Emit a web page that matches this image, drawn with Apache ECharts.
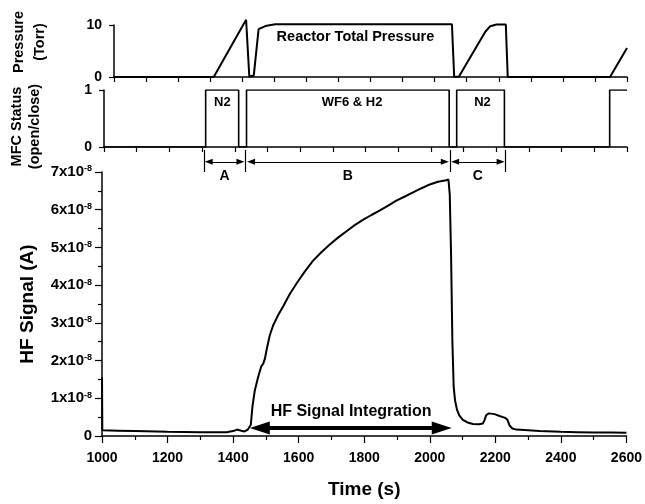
<!DOCTYPE html>
<html><head><meta charset="utf-8">
<script src="https://cdn.jsdelivr.net/npm/echarts@6/dist/echarts.min.js"></script>
<style>html,body{margin:0;padding:0;background:#fff}#c{width:645px;height:504px}</style>
</head><body><div id="c"></div>
<script>
// ---- data ----
const timeMin = 1000, timeMax = 2600;
// HF signal, in units of 1e-8 A
const hfTime = [1000,1001,1050,1100,1200,1300,1380,1400,1412,1425,1435,1445,1451,1454,1459,1466,1476,1486,1492,1495,1497,1503,1512,1522,1537,1553,1572,1594,1618,1644,1670,1695,1720,1746,1771,1796,1822,1848,1873,1898,1924,1949,1975,2000,2025,2050,2057,2061,2065,2069,2073,2077,2083,2090,2101,2115,2132,2150,2162,2167,2172,2180,2198,2213,2230,2237,2244,2252,2264,2300,2335,2400,2450,2500,2550,2600];
const hfSignal = [1.55,0.15,0.14,0.13,0.11,0.10,0.10,0.13,0.17,0.14,0.12,0.17,0.16,0.30,0.78,1.20,1.55,1.85,1.92,1.96,2.05,2.32,2.67,2.93,3.20,3.44,3.75,4.05,4.35,4.65,4.88,5.08,5.26,5.43,5.59,5.73,5.86,5.98,6.11,6.24,6.35,6.46,6.57,6.67,6.74,6.78,6.80,6.40,4.80,2.50,1.30,0.95,0.70,0.55,0.43,0.36,0.32,0.31,0.33,0.42,0.55,0.60,0.58,0.53,0.48,0.43,0.27,0.20,0.17,0.15,0.13,0.11,0.10,0.09,0.09,0.085];
// Reactor total pressure (Torr)
const pressTime = [1000,1311,1412,1422,1428,1436,1451,1472,1503,2054,2061,2067,2076,2158,2173,2193,2222,2228,2547,2600];
const pressTorr = [0,0,11.0,0.1,0,0.3,9.2,9.8,10.15,10.15,0,0,0.1,8.7,9.75,10.1,10.1,0,0,5.6];
// MFC status (step changes)
const mfcTime = [1000,1311,1412,1436,2056,2079,2225,2547,2600];
const mfcState = [0,1,0,1,0,1,0,1,1];
const mfcLabelText = ['N2','WF6 & H2','N2'];
const mfcLabelTime = [1362,1759,2158];
// Phases A/B/C
const phaseNames = ['A','B','C'];
const phaseSpans = [[1313,1434],[1442,2057],[2064,2227]];
const phaseGuides = [1311,1438,2060,2229];
const integrationSpan = [1451,2067];
const integrationText = 'HF Signal Integration';
const pressureText = 'Reactor Total Pressure';
const hfTicks = [0,1,2,3,4,5,6,7];

// ---- chart ----
const F = "'Liberation Sans', Arial, Helvetica, sans-serif";
const black = '#000';
const zip = (a,b) => a.map((v,i)=>[v,b[i]]);
const pxPerSec = 525/1600;
const bigHead = 10/pxPerSec, smallHead = 4/pxPerSec;

const axisLine = {show:true, lineStyle:{color:black, width:1.5}};
const tickStyle = {color:black, width:1.2};
const lab = (size) => ({color:black, fontFamily:F, fontWeight:'bold', fontSize:size});
const txt = (size) => Object.assign({show:true, position:'inside', formatter:'{b}', opacity:1}, lab(size));
const noSym = {opacity:1, color:'transparent'};

const chart = echarts.init(document.getElementById('c'), null, {renderer:'canvas'});
chart.setOption({
  animation:false,
  backgroundColor:'#fff',
  grid:[
    {left:102, right:18, top:25, height:52},
    {left:102, right:18, top:90, height:57},
    {left:102, right:18, top:172, height:271},
    {left:102, right:18, top:148, height:32}
  ],
  xAxis:[
    {gridIndex:0, type:'value', min:timeMin, max:timeMax, interval:100, axisLine,
     axisTick:{show:true, length:5, lineStyle:tickStyle}, axisLabel:{show:false}, splitLine:{show:false}},
    {gridIndex:1, type:'value', min:timeMin, max:timeMax, interval:100, axisLine,
     axisTick:{show:true, length:5, lineStyle:tickStyle}, axisLabel:{show:false}, splitLine:{show:false}},
    {gridIndex:2, type:'value', min:timeMin, max:timeMax, interval:200, axisLine,
     axisTick:{show:true, length:7, lineStyle:tickStyle},
     minorTick:{show:true, splitNumber:2, length:4, lineStyle:tickStyle},
     axisLabel:Object.assign({margin:15, formatter:v => String(v)}, lab(14)), splitLine:{show:false},
     name:'Time (s)', nameLocation:'middle', nameGap:44, nameTextStyle:lab(19)},
    {gridIndex:3, type:'value', min:timeMin, max:timeMax, show:false}
  ],
  yAxis:[
    {gridIndex:0, type:'value', min:0, max:10, interval:10, axisLine,
     axisTick:{show:true, length:5, lineStyle:tickStyle}, axisLabel:Object.assign({margin:12}, lab(14)),
     splitLine:{show:false},
     name:'Pressure\n(Torr)', nameLocation:'middle', nameRotate:90, nameGap:64,
     nameTextStyle:Object.assign({lineHeight:21, padding:[0,0,0,18]}, lab(14.5))},
    {gridIndex:1, type:'value', min:0, max:1, interval:1, axisLine,
     axisTick:{show:true, length:5, lineStyle:tickStyle}, axisLabel:Object.assign({margin:12}, lab(14)),
     splitLine:{show:false},
     name:'MFC Status\n(open/close)', nameLocation:'middle', nameRotate:90, nameGap:60,
     nameTextStyle:Object.assign({lineHeight:18, padding:[0,16,0,0]}, lab(14.5))},
    {gridIndex:2, type:'value', min:hfTicks[0], max:hfTicks[hfTicks.length-1], interval:1, axisLine,
     axisTick:{show:true, length:7, lineStyle:tickStyle},
     minorTick:{show:true, splitNumber:2, length:4, lineStyle:tickStyle},
     splitLine:{show:false},
     axisLabel:{margin:10, formatter:v => v===0 ? '{a|0}' : '{a|'+v+'x10}{s|-8}',
       rich:{a:lab(15), s:Object.assign({verticalAlign:'top', lineHeight:10}, lab(9))}},
     name:'HF Signal (A)', nameLocation:'middle', nameRotate:90, nameGap:65, nameTextStyle:lab(19)},
    {gridIndex:3, type:'value', min:0, max:1, show:false}
  ],
  series:[
    {type:'line', xAxisIndex:0, yAxisIndex:0, data:zip(pressTime,pressTorr), showSymbol:false, clip:false,
     lineStyle:{color:black, width:2}, silent:true},
    {type:'line', xAxisIndex:1, yAxisIndex:1, data:zip(mfcTime,mfcState), step:'end', showSymbol:false,
     lineStyle:{color:black, width:1.6}, silent:true},
    {type:'line', xAxisIndex:2, yAxisIndex:2, data:zip(hfTime,hfSignal), showSymbol:false,
     lineStyle:{color:black, width:2}, silent:true,
     markLine:{silent:true, lineStyle:{color:black, width:4, type:'solid'}, itemStyle:{color:black}, label:{show:false},
       data:[[{coord:[integrationSpan[0]+bigHead,0.21], symbol:'triangle', symbolSize:[13,20]},
              {coord:[integrationSpan[1]-bigHead,0.21], symbol:'triangle', symbolSize:[13,20]}]]}},
    {type:'scatter', xAxisIndex:0, yAxisIndex:0, symbolSize:0, silent:true, itemStyle:noSym,
     data:[{name:pressureText, value:[1753,7.75]}], label:txt(14.5)},
    {type:'scatter', xAxisIndex:1, yAxisIndex:1, symbolSize:0, silent:true, itemStyle:noSym,
     data:mfcLabelText.map((t,i)=>({name:t, value:[mfcLabelTime[i],0.78]})), label:txt(13)},
    {type:'scatter', xAxisIndex:2, yAxisIndex:2, symbolSize:0, silent:true, itemStyle:noSym,
     data:[{name:integrationText, value:[(integrationSpan[0]+integrationSpan[1])/2+1,0.64]}], label:txt(16)},
    {type:'scatter', xAxisIndex:3, yAxisIndex:3, symbolSize:0, silent:true, itemStyle:noSym,
     data:phaseNames.map((n,i)=>({name:n, value:[(phaseSpans[i][0]+phaseSpans[i][1])/2,0.13]})),
     label:txt(14),
     markLine:{silent:true, label:{show:false}, itemStyle:{color:black},
       lineStyle:{color:black, width:1.2, type:'solid'},
       data:[].concat(
         phaseSpans.map(s=>[
           {coord:[s[0]+smallHead,0.57], symbol:'triangle', symbolSize:[6,8]},
           {coord:[s[1]-smallHead,0.57], symbol:'triangle', symbolSize:[6,8]}]),
         phaseGuides.map(g=>[
           {coord:[g,0.94], symbol:'none'},
           {coord:[g,0.25], symbol:'none'}])
       )}}
  ]
});
</script></body></html>
